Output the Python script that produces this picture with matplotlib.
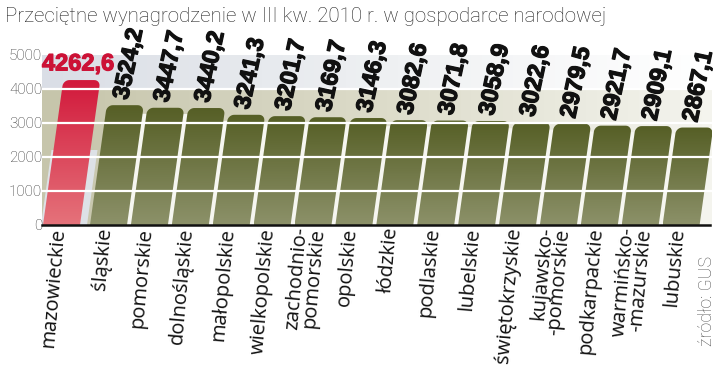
import matplotlib as mpl
import matplotlib.pyplot as plt
import matplotlib.patheffects as pe
import numpy as np
from matplotlib.colors import LinearSegmentedColormap
from matplotlib.patches import Polygon

regions = ['mazowieckie', 'śląskie', 'pomorskie', 'dolnośląskie', 'małopolskie',
           'wielkopolskie', 'zachodnio-\npomorskie', 'opolskie', 'łódzkie', 'podlaskie',
           'lubelskie', 'świętokrzyskie', 'kujawsko-\n-pomorskie', 'podkarpackie',
           'warmińsko-\n-mazurskie', 'lubuskie']
values = [4262.6, 3524.2, 3447.7, 3440.2, 3241.3, 3201.7, 3169.7, 3146.3,
          3082.6, 3071.8, 3058.9, 3022.6, 2979.5, 2921.7, 2909.1, 2867.1]
value_labels = ['4262,6', '3524,2', '3447,7', '3440,2', '3241,3', '3201,7', '3169,7', '3146,3',
                '3082,6', '3071,8', '3058,9', '3022,6', '2979,5', '2921,7', '2909,1', '2867,1']
yticks = [0, 1000, 2000, 3000, 4000, 5000]
title = 'Przeciętne wynagrodzenie w III kw. 2010 r. w gospodarce narodowej'
source = 'źródło: GUS'

# pixel scale helpers (figure at 100 dpi)
PXX = 40.9      # px per bar slot
PXY = 0.034     # px per unit of value
SHEAR = 0.14    # horizontal shift per px of height
BW = 37.0       # bar width in px
R = 6.0         # corner radius px

fig = plt.figure(figsize=(7.2, 3.71), dpi=100, facecolor='w')
ax = fig.add_axes([42 / 720, (371 - 225) / 371, 670 / 720, 170 / 371])
XMAX = 670 / PXX

centers = [19.5 / PXX] + [66.5 / PXX + k for k in range(len(values) - 1)]


def sheared(x0, pts):
    return [(x0 + (u + SHEAR * v) / PXX, v / PXY) for u, v in pts]


def bar_pts(h, w=BW, r=R):
    H = h * PXY
    pts = [(0, 0), (w, 0)]
    for t in np.linspace(0, np.pi / 2, 8):
        pts.append((w - r + r * np.cos(t), H - r + r * np.sin(t)))
    for t in np.linspace(np.pi / 2, np.pi, 8):
        pts.append((r + r * np.cos(t), H - r + r * np.sin(t)))
    return pts


def grad_fill(poly, top, bottom, h):
    cmap = LinearSegmentedColormap.from_list('g', [bottom, top])
    xs = [p[0] for p in poly.get_xy()]
    im = ax.imshow(np.linspace(0, 1, 64).reshape(-1, 1), extent=[min(xs), max(xs), 0, h],
                   origin='lower', aspect='auto', cmap=cmap, zorder=3)
    im.set_clip_path(poly)


# background bands
band_top = LinearSegmentedColormap.from_list('bt', ['#dadee6', '#eef0f2', '#ffffff'])
band_low = LinearSegmentedColormap.from_list('bl', ['#c6c5ab', '#dcdbc9', '#f4f4ee'])
ax.imshow(np.linspace(0, 1, 64).reshape(1, -1), extent=[0, XMAX, 4000, 5000],
          aspect='auto', cmap=band_top, zorder=0)
ax.imshow(np.linspace(0, 1, 64).reshape(1, -1), extent=[0, XMAX, 0, 4000],
          aspect='auto', cmap=band_low, zorder=0)

# light column behind the red bar
x0 = centers[0] - BW / 2 / PXX
col = Polygon(sheared(x0 - 2 / PXX, [(0, 0), (BW + 9, 0), (BW + 9, 75), (0, 75)]),
              closed=True, fc='#dde1e6', ec='none', zorder=1)
ax.add_patch(col)

# white gaps between green bars
for k in range(1, len(values) - 1):
    xr = centers[k] + BW / 2 / PXX - 1.5 / PXX
    hh = min(values[k], values[k + 1]) * PXY - R
    gap = Polygon(sheared(xr, [(0, 0), (7, 0), (7, hh), (0, hh)]),
                  closed=True, fc='#f6f6f0', ec='none', zorder=1)
    ax.add_patch(gap)

# bars
for i, (c, v) in enumerate(zip(centers, values)):
    x0 = c - BW / 2 / PXX
    poly = Polygon(sheared(x0, bar_pts(v)), closed=True, fc='none', ec='none')
    ax.add_patch(poly)
    if i == 0:
        grad_fill(poly, '#d21a3c', '#e5727a', v)
    else:
        grad_fill(poly, '#565f26', '#8c9169', v)

# grid lines over the bars
for yv in yticks[1:-1]:
    ax.axhline(yv, color='white', lw=1.6, zorder=4)

ax.plot([0, 668 / PXX], [0, 0], color='#111111', lw=1.8, zorder=5, clip_on=False)

ax.set_xlim(0, XMAX)
ax.set_ylim(0, 5000)
for s in ax.spines.values():
    s.set_visible(False)
ax.set_xticks([])
ax.set_yticks(yticks)
ax.set_yticklabels([str(t) for t in yticks], fontfamily='Roboto', fontweight='light',
                   fontsize=11, color='#333333')
ax.tick_params(axis='y', length=0, pad=0)

# value labels
heavy = [pe.withStroke(linewidth=0.9, foreground='#111111')]
ax.text(0, 4740, value_labels[0], fontfamily='Liberation Sans', fontweight='bold',
        fontsize=17, color='#cc1236', ha='left', va='center', zorder=6,
        path_effects=[pe.withStroke(linewidth=0.9, foreground='#cc1236')])
for c, v, lab in zip(centers[1:], values[1:], value_labels[1:]):
    xt = c + (SHEAR * v * PXY - 4.0) / PXX
    ax.text(xt, v + 6 / PXY, lab, rotation=78, rotation_mode='anchor', ha='left', va='center',
            fontfamily='Liberation Sans', fontweight='bold', fontsize=17, color='#111111',
            zorder=6, clip_on=False, path_effects=heavy)

# category labels
for c, lab in zip(centers, regions):
    ax.text(c - 3 / PXX, -3 / PXY, lab, rotation=85, rotation_mode='anchor', ha='right',
            va='center', ma='right', fontfamily='Open Sans', fontsize=14.5, color='#111111',
            linespacing=0.8, clip_on=False)

fig.text(5 / 720, 1 - 17 / 371, title, fontfamily='Roboto', fontweight='light', fontsize=14.8,
         color='#222222', ha='left', va='center')
fig.text(707 / 720, 1 - 301 / 371, source, fontfamily='Roboto', fontweight='light', fontsize=12.8,
         color='#555555', rotation=90, ha='center', va='center')

fig.savefig('out.png', dpi=100, facecolor='w')
